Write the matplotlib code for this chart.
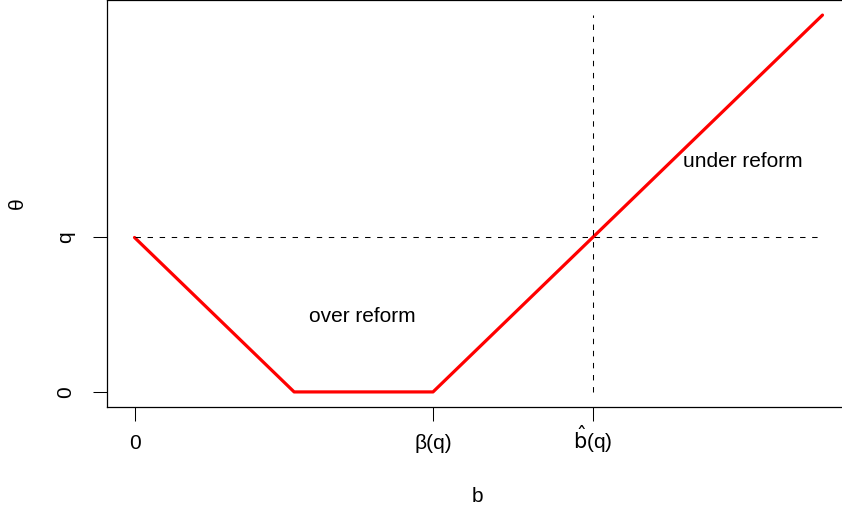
import matplotlib
matplotlib.use("Agg")
from matplotlib import pyplot as plt

plt.rcParams['font.family'] = ['Liberation Sans', 'DejaVu Sans']

# theta as a function of b, corner points of the red curve
b_pts = [0.0, 1.0, 1.87, 4.31]
theta_pts = [1.0, 0.0, 0.0, 2.44]
q = 1.0
b_hat = 2.87
beta_q = 1.87

x_ticks = [0.0, beta_q, b_hat]
x_labels = ["0", "β(q)", r"$\hat{\mathrm{b}}$(q)"]
y_ticks = [0.0, q]
y_labels = ["0", "q"]

fig = plt.figure(figsize=(8.42, 5.13), dpi=100)
ax = fig.add_axes([107 / 842, 106 / 513, 743 / 842, 407 / 513])

ax.plot(b_pts, theta_pts, color="red", lw=2.3, solid_capstyle="round")
ax.plot([b_pts[0], b_pts[-1]], [q, q], color="black", lw=0.75,
        linestyle=(0, (5.2, 6.4)))
ax.plot([b_hat, b_hat], [0, theta_pts[-1]], color="black", lw=0.75,
        linestyle=(0, (5.2, 6.4)))

ax.text(1.43, 0.49, "over reform", ha="center", va="center", fontsize=15)
ax.text(3.81, 1.49, "under reform", ha="center", va="center", fontsize=15)

xr = b_pts[-1] - b_pts[0]
yr = max(theta_pts) - min(theta_pts)
ax.set_xlim(b_pts[0] - 0.04 * xr, b_pts[-1] + 0.04 * xr)
ax.set_ylim(min(theta_pts) - 0.04 * yr, max(theta_pts) + 0.04 * yr)

ax.set_xticks(x_ticks)
ax.set_xticklabels(x_labels, fontsize=15)
for lbl in ax.get_xticklabels():
    lbl.set_va("baseline")
ax.set_yticks(y_ticks)
ax.set_yticklabels(y_labels, fontsize=15, rotation=90, va="center")
ax.tick_params(length=10, width=0.75)
ax.tick_params(axis="x", pad=20)
ax.tick_params(axis="y", pad=13)

for s in ax.spines.values():
    s.set_linewidth(0.9)

fig.text(477 / 842, 1 - 497 / 513, "b", fontsize=15, ha="center", va="center")
fig.text(17 / 842, 1 - 203 / 513, "θ", fontsize=15, ha="center", va="center",
         rotation=90)

fig.savefig("out.png", dpi=100)
